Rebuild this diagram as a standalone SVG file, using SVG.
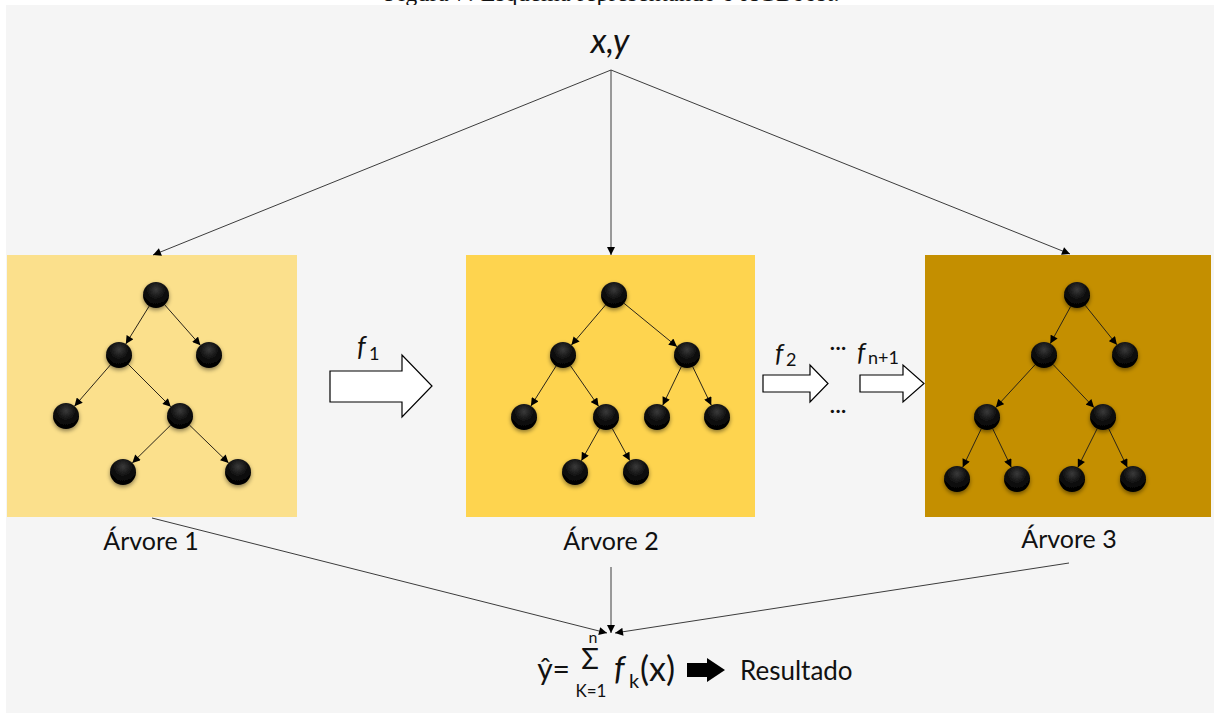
<svg xmlns="http://www.w3.org/2000/svg" width="1214" height="713" viewBox="0 0 1214 713">
  <defs>
    <style>
      .lbl { font-family: Lato, "Open Sans", "Liberation Sans", sans-serif; fill: #111; }
      .it { font-style: italic; }
      .tedge { stroke: #2a2418; stroke-width: 1; fill: none; marker-end: url(#tip); }
      .conn { stroke: #3c3c3c; stroke-width: 1; fill: none; marker-end: url(#ctip); }
      .hollow { fill: #ffffff; stroke: #000; stroke-width: 1.2; stroke-linejoin: miter; }
      .node { fill: url(#ball); filter: url(#shadow); }
    </style>
    <radialGradient id="ball" cx="50%" cy="30%" r="70%">
      <stop offset="0" stop-color="#3a3a3a"/>
      <stop offset="0.55" stop-color="#0c0c0c"/>
      <stop offset="1" stop-color="#000"/>
    </radialGradient>
    <filter id="shadow" x="-50%" y="-50%" width="200%" height="200%">
      <feDropShadow dx="0" dy="2" stdDeviation="2" flood-color="#000" flood-opacity="0.45"/>
    </filter>
    <marker id="tip" viewBox="0 0 10 10" refX="10" refY="5" markerWidth="9" markerHeight="8" markerUnits="userSpaceOnUse" orient="auto">
      <path d="M0,0 L10,5 L0,10 z" fill="#000"/>
    </marker>
    <marker id="ctip" viewBox="0 0 10 10" refX="10" refY="5" markerWidth="10" markerHeight="8" markerUnits="userSpaceOnUse" orient="auto">
      <path d="M0,0 L10,5 L0,10 z" fill="#000"/>
    </marker>
  </defs>

  <!-- page strip with the caption, partly covered by the drawing panel -->
  <rect x="0" y="0" width="1214" height="713" fill="#ffffff"/>
  <text x="612" y="0.5" text-anchor="middle" font-family="'Liberation Serif', serif" font-size="24" fill="#111" textLength="455">Figura 7: Esquema representando o XGBoost.</text>
  <rect x="6" y="5" width="1208" height="708" fill="#f5f5f5"/>

  <!-- input label -->
  <text class="lbl it" x="610" y="53" text-anchor="middle" font-size="34">x,y</text>

  <!-- tree 1 -->
  <g id="arvore1">
    <rect x="7" y="255" width="290" height="262" fill="#fbe08c"/>
    <line class="tedge" x1="149.2" y1="306.1" x2="125.8" y2="343.9"/>
    <line class="tedge" x1="164.6" y1="304.7" x2="200.4" y2="345.3"/>
    <line class="tedge" x1="110.5" y1="364.8" x2="74.5" y2="406.2"/>
    <line class="tedge" x1="128.2" y1="364.2" x2="170.8" y2="406.8"/>
    <line class="tedge" x1="170.7" y1="425.1" x2="132.3" y2="462.9"/>
    <line class="tedge" x1="189.4" y1="425.0" x2="228.6" y2="463.0"/>
    <circle class="node" cx="156" cy="295" r="13"/>
    <circle class="node" cx="119" cy="355" r="13"/>
    <circle class="node" cx="209" cy="355" r="13"/>
    <circle class="node" cx="66" cy="416" r="13"/>
    <circle class="node" cx="180" cy="416" r="13"/>
    <circle class="node" cx="123" cy="472" r="13"/>
    <circle class="node" cx="238" cy="472" r="13"/>
    <text class="lbl" x="151" y="550" text-anchor="middle" font-size="25">Árvore 1</text>
  </g>

  <!-- tree 2 -->
  <g id="arvore2">
    <rect x="466" y="255" width="289" height="262" fill="#fed44f"/>
    <line class="tedge" x1="605.6" y1="304.9" x2="571.4" y2="345.1"/>
    <line class="tedge" x1="624.0" y1="303.3" x2="677.0" y2="346.7"/>
    <line class="tedge" x1="556.1" y1="366.0" x2="530.9" y2="406.0"/>
    <line class="tedge" x1="570.4" y1="365.7" x2="598.6" y2="406.3"/>
    <line class="tedge" x1="681.3" y1="366.7" x2="662.7" y2="405.3"/>
    <line class="tedge" x1="692.7" y1="366.7" x2="711.3" y2="405.3"/>
    <line class="tedge" x1="599.6" y1="428.3" x2="581.4" y2="460.7"/>
    <line class="tedge" x1="612.2" y1="428.4" x2="629.8" y2="460.6"/>
    <circle class="node" cx="614" cy="295" r="13"/>
    <circle class="node" cx="563" cy="355" r="13"/>
    <circle class="node" cx="687" cy="355" r="13"/>
    <circle class="node" cx="524" cy="417" r="13"/>
    <circle class="node" cx="606" cy="417" r="13"/>
    <circle class="node" cx="657" cy="417" r="13"/>
    <circle class="node" cx="717" cy="417" r="13"/>
    <circle class="node" cx="575" cy="472" r="13"/>
    <circle class="node" cx="636" cy="472" r="13"/>
    <text class="lbl" x="611" y="550" text-anchor="middle" font-size="25">Árvore 2</text>
  </g>

  <!-- tree 3 -->
  <g id="arvore3">
    <rect x="925" y="255" width="286" height="262" fill="#c48f00"/>
    <line class="tedge" x1="1070.7" y1="306.4" x2="1050.3" y2="343.6"/>
    <line class="tedge" x1="1085.1" y1="305.2" x2="1116.9" y2="344.8"/>
    <line class="tedge" x1="1035.2" y1="364.6" x2="995.8" y2="407.4"/>
    <line class="tedge" x1="1053.0" y1="364.4" x2="1094.0" y2="407.6"/>
    <line class="tedge" x1="981.3" y1="428.7" x2="962.7" y2="467.3"/>
    <line class="tedge" x1="992.7" y1="428.7" x2="1011.3" y2="467.3"/>
    <line class="tedge" x1="1097.2" y1="428.6" x2="1077.8" y2="467.4"/>
    <line class="tedge" x1="1108.7" y1="428.7" x2="1127.3" y2="467.3"/>
    <circle class="node" cx="1077" cy="295" r="13"/>
    <circle class="node" cx="1044" cy="355" r="13"/>
    <circle class="node" cx="1125" cy="355" r="13"/>
    <circle class="node" cx="987" cy="417" r="13"/>
    <circle class="node" cx="1103" cy="417" r="13"/>
    <circle class="node" cx="957" cy="479" r="13"/>
    <circle class="node" cx="1017" cy="479" r="13"/>
    <circle class="node" cx="1072" cy="479" r="13"/>
    <circle class="node" cx="1133" cy="479" r="13"/>
    <text class="lbl" x="1069" y="548" text-anchor="middle" font-size="25">Árvore 3</text>
  </g>

  <!-- boosting steps between trees -->
  <g id="passos">
    <polygon class="hollow" points="330,371 402,371 402,355 432,386 402,417 402,402 330,402"/>
    <text class="lbl it" x="357" y="356" font-size="27">f</text>
    <text class="lbl" x="369" y="360" font-size="18">1</text>

    <polygon class="hollow" points="763,375 810,375 810,365 828,383.5 810,402 810,392 763,392"/>
    <text class="lbl it" x="775" y="362" font-size="26">f</text>
    <text class="lbl" x="786" y="366" font-size="18">2</text>

    <text class="lbl" x="838" y="355" text-anchor="middle" font-size="22">···</text>

    <polygon class="hollow" points="860,375 903,375 903,365 924,383.5 903,402 903,392 860,392"/>
    <text class="lbl it" x="857" y="361" font-size="26">f</text>
    <text class="lbl" x="868" y="364" font-size="18">n+1</text>

    <text class="lbl" x="838" y="418" text-anchor="middle" font-size="22">···</text>
  </g>

  <!-- connectors -->
  <g id="conectores">
    <line class="conn" x1="611" y1="70" x2="153" y2="255"/>
    <line class="conn" x1="611" y1="70" x2="611" y2="255"/>
    <line class="conn" x1="611" y1="70" x2="1070" y2="254"/>
    <line class="conn" x1="152" y1="518" x2="607" y2="633"/>
    <line class="conn" x1="611" y1="567" x2="611" y2="633"/>
    <line class="conn" x1="1069" y1="563" x2="615" y2="633"/>
  </g>

  <!-- result formula -->
  <g id="resultado">
    <text class="lbl" x="570" y="680" text-anchor="end" font-size="30">ŷ=</text>
    <text class="lbl" x="590" y="669" text-anchor="middle" font-size="29">Σ</text>
    <text class="lbl" x="593" y="643" text-anchor="middle" font-size="16">n</text>
    <text class="lbl" x="591" y="697" text-anchor="middle" font-size="17">K=1</text>
    <text class="lbl it" x="614" y="680" font-size="33">f</text>
    <text class="lbl" x="629" y="688" font-size="20">k</text>
    <text class="lbl" x="640" y="681" font-size="34">(x)</text>
    <polygon points="687,663 707,663 707,658 725,670 707,682 707,677 687,677" fill="#000"/>
    <text class="lbl" x="740" y="680" font-size="26">Resultado</text>
  </g>
</svg>
